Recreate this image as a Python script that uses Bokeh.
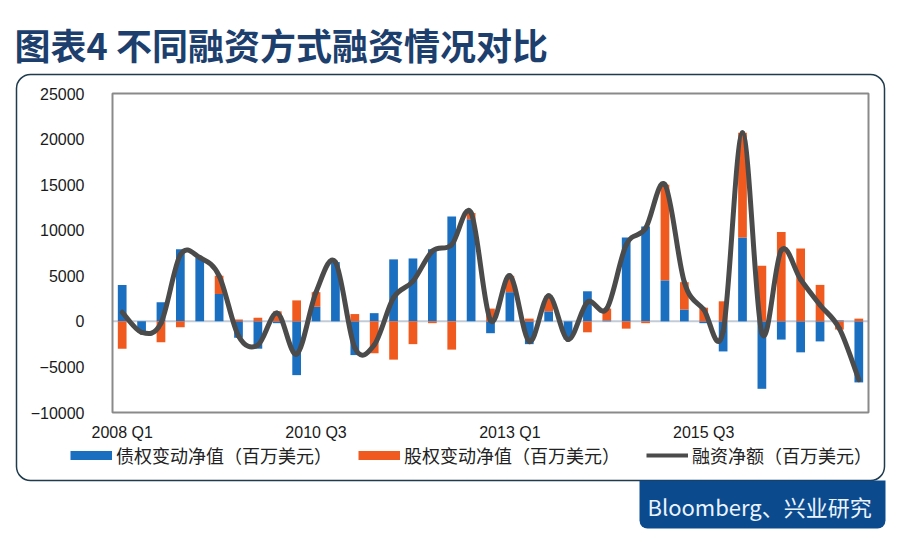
import numpy as np
from bokeh.plotting import figure
from bokeh.models import (ColumnDataSource, FixedTicker, Range1d, Label, LinearAxis,
                          BoxAnnotation, Legend, LegendItem)
from bokeh.embed import file_html
from bokeh.resources import INLINE

# ---------------- data (quarterly, 2008 Q1 .. 2017 Q3) ----------------
quarters = [f"{y} Q{q}" for y in range(2008, 2018) for q in range(1, 5)][:39]
debt_net = [4000, -1100, 2100, 7900, 7000, 3000, -1800, -3000, -200, -5900,
            1600, 6500, -3700, 900, 6800, 6900, 7900, 11500, 11200, -1300,
            3200, -2500, 1100, -2000, 3300, 100, 9200, 10400, 4500, 1300,
            -200, -3300, 9200, -7400, -2000, -3400, -2200, 100, -6700]
equity_net = [-3000, -100, -2300, -650, 0, 2000, 200, 400, 1100, 2300,
              1600, 0, 800, -3500, -4200, -2500, -200, -3100, 700, 1400,
              1800, 300, 1700, 0, -1200, 1300, -800, -200, 10500, 3000,
              1500, 2200, 11500, 6100, 9800, 8000, 4000, -900, 300]
net_financing = [1000, -1200, -200, 7300, 7000, 5000, -1600, -2600, 900, -3600,
                 3200, 6500, -2900, -2600, 2600, 4400, 7700, 8400, 11900, 100,
                 5000, -2200, 2800, -2000, 2100, 1400, 8400, 10200, 15000, 4300,
                 1300, -1100, 20700, -1300, 7800, 4600, 1800, -800, -6400]
tick_labels = {0: "2008 Q1", 10: "2010 Q3", 20: "2013 Q1", 30: "2015 Q3"}
y_ticks = [-10000, -5000, 0, 5000, 10000, 15000, 20000, 25000]
y_min, y_max = -10000, 25000

title_text = "图表4 不同融资方式融资情况对比"
source_text = "Bloomberg、兴业研究"
legend_labels = ["债权变动净值（百万美元）", "股权变动净值（百万美元）", "融资净额（百万美元）"]

BLUE = "#1b6fc1"
ORANGE = "#f05a1e"
GRAY = "#4b4b4b"
NAVY = "#0c4a8e"

# ---------------- layout geometry (canvas pixels) ----------------
W, H = 900, 538
FL, FR, FT, FB = 112, 868, 93, 412      # chart frame box on the canvas

nq = len(quarters)
x_lo, x_hi = -0.5, nq - 0.5
ppx = (FR - FL) / (x_hi - x_lo)
vpp = (y_max - y_min) / (FB - FT)

x = np.arange(nq, dtype=float)
blue = np.array(debt_net, dtype=float)
orng = np.array(equity_net, dtype=float)
o_bot = np.where(orng >= 0, np.maximum(blue, 0), np.minimum(blue, 0))
o_top = o_bot + orng
bar_src = ColumnDataSource(dict(x=x, blue=blue, o_bot=o_bot, o_top=o_top))

# smoothed line (Excel-style) as cubic Bezier segments through the data points
P = np.array(net_financing, dtype=float)
prev_i = np.clip(np.arange(nq) - 1, 0, nq - 1)
next_i = np.clip(np.arange(nq) + 1, 0, nq - 1)
tx = (x[next_i] - x[prev_i]) / 6.0
ty = (P[next_i] - P[prev_i]) / 6.0
bz_src = ColumnDataSource(dict(
    x0=x[:-1], y0=P[:-1], x1=x[1:], y1=P[1:],
    cx0=x[:-1] + tx[:-1], cy0=P[:-1] + ty[:-1],
    cx1=x[1:] - tx[1:], cy1=P[1:] - ty[1:]))

# ---------------- figure: frame = whole canvas ----------------
p = figure(width=W, height=H, output_backend="svg", toolbar_location=None,
           x_range=Range1d(0, W), y_range=Range1d(H, 0), min_border=0,
           x_axis_location=None, y_axis_location=None)
p.grid.visible = False
p.outline_line_color = None
p.background_fill_color = "white"
p.border_fill_color = "white"
p.extra_x_ranges = {"q": Range1d(x_lo - FL / ppx, x_hi + (W - FR) / ppx)}
p.extra_y_ranges = {"v": Range1d(y_min - (H - FB) * vpp, y_max + FT * vpp)}

# outer rounded panel and source box
p.add_layout(BoxAnnotation(left=16, right=884, top=74, bottom=480,
                           fill_alpha=0, line_color="#1f3b4d", line_alpha=1,
                           line_width=1.5, border_radius=14, level="underlay"))
p.add_layout(BoxAnnotation(left=639, right=885, top=480, bottom=528,
                           fill_color=NAVY, fill_alpha=1, line_color=None,
                           border_radius=(0, 0, 8, 8)))

# axes (fixed at the chart frame edges)
yax = LinearAxis(y_range_name="v", fixed_location=FL, ticker=FixedTicker(ticks=y_ticks))
xax = LinearAxis(x_range_name="q", fixed_location=FB,
                 ticker=FixedTicker(ticks=list(tick_labels.keys())),
                 major_label_overrides={k: v for k, v in tick_labels.items()})
for ax in (xax, yax):
    ax.axis_line_color = None
    ax.major_tick_line_color = None
    ax.minor_tick_line_color = None
    ax.major_label_text_font = "Liberation Sans"
    ax.major_label_text_font_size = "16px"
    ax.major_label_text_color = "#1a1a1a"
xax.major_label_standoff = 5
yax.major_label_standoff = 22
p.add_layout(yax, "left")
p.add_layout(xax, "below")

# zero line and chart frame
p.segment(x0=[x_lo], y0=[0], x1=[x_hi], y1=[0], x_range_name="q", y_range_name="v",
          line_color="#c3ccd6", line_width=2)
p.quad(left=[x_lo], right=[x_hi], bottom=[y_min], top=[y_max],
       x_range_name="q", y_range_name="v", fill_color=None,
       line_color="#8a8a8a", line_width=2)

p.vbar(x="x", width=0.45, top="blue", bottom=0, source=bar_src,
       x_range_name="q", y_range_name="v", fill_color=BLUE, line_color=None)
p.vbar(x="x", width=0.45, top="o_top", bottom="o_bot", source=bar_src,
       x_range_name="q", y_range_name="v", fill_color=ORANGE, line_color=None)
p.bezier(x0="x0", y0="y0", x1="x1", y1="y1", cx0="cx0", cy0="cy0",
         cx1="cx1", cy1="cy1", source=bz_src, x_range_name="q", y_range_name="v",
         line_color=GRAY, line_width=5, line_cap="round")

# legend (proxy glyphs)
r1 = p.line([np.nan, np.nan], [np.nan, np.nan], line_color=BLUE, line_width=9)
r2 = p.line([np.nan, np.nan], [np.nan, np.nan], line_color=ORANGE, line_width=9)
r3 = p.line([np.nan, np.nan], [np.nan, np.nan], line_color=GRAY, line_width=4)
legend = Legend(items=[LegendItem(label=legend_labels[0], renderers=[r1]),
                       LegendItem(label=legend_labels[1], renderers=[r2]),
                       LegendItem(label=legend_labels[2], renderers=[r3])],
                orientation="horizontal", location=(70, H - 468),
                glyph_width=42, glyph_height=20, label_height=20,
                label_standoff=4, spacing=26, padding=0, margin=0,
                border_line_color=None, background_fill_alpha=0,
                label_text_font="Noto Sans CJK SC", label_text_font_size="18px",
                label_text_color="#222222")
p.add_layout(legend)

# title and source text
p.add_layout(Label(x=14, y=43, text=title_text, text_font="Noto Sans CJK SC",
                   text_font_size="36px", text_font_style="bold",
                   text_color="#1d3f6e", text_baseline="middle", text_align="left"))
p.add_layout(Label(x=647, y=505, text=source_text, text_font="Noto Sans CJK SC",
                   text_font_size="22px", text_color="#eaf4ff",
                   text_baseline="middle", text_align="left"))

open("out.html", "w").write(file_html(p, INLINE))
